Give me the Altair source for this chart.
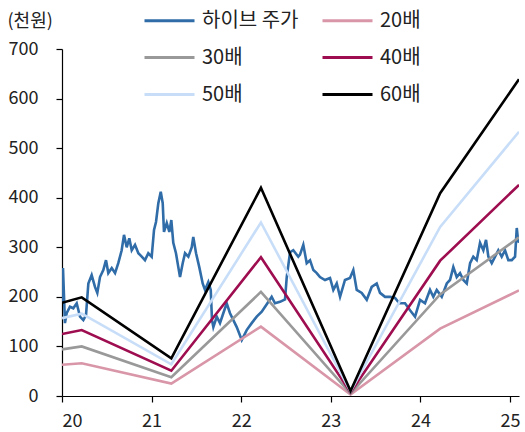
import altair as alt
import pandas as pd

# Stock price (천원), x in fractional years (20 = 2020)
stock_x = [20.0, 20.011, 20.033, 20.052, 20.089, 20.126, 20.164, 20.201, 20.238, 20.268, 20.294,
           20.331, 20.368, 20.394, 20.424, 20.461, 20.491, 20.517, 20.555, 20.592, 20.628,
           20.666, 20.692, 20.722, 20.751, 20.778, 20.815, 20.852, 20.890, 20.926, 20.963,
           21.001, 21.027, 21.049, 21.075, 21.102, 21.124, 21.138, 21.169, 21.198, 21.220,
           21.242, 21.272, 21.298, 21.317, 21.347, 21.373, 21.410, 21.448, 21.465, 21.496,
           21.532, 21.570, 21.596, 21.633, 21.660, 21.674, 21.689, 21.727, 21.763, 21.800,
           21.838, 21.875, 21.950, 22.006, 22.061, 22.117, 22.173, 22.229, 22.285, 22.340,
           22.377, 22.433, 22.489, 22.508, 22.545, 22.581, 22.637, 22.656, 22.693, 22.731,
           22.768, 22.805, 22.843, 22.879, 22.935, 22.991, 23.028, 23.066, 23.103, 23.158,
           23.214, 23.251, 23.289, 23.345, 23.401, 23.456, 23.512, 23.549, 23.605, 23.661,
           23.717, 23.764, 23.828, 23.884, 23.940, 23.996, 24.051, 24.107, 24.144, 24.182,
           24.238, 24.294, 24.330, 24.367, 24.405, 24.442, 24.479, 24.517, 24.554, 24.590,
           24.628, 24.665, 24.702, 24.732, 24.758, 24.796, 24.833, 24.869, 24.907, 24.944,
           24.981, 25.019, 25.056, 25.075, 25.089, 25.100]
stock_y = [190, 258, 147, 167, 180, 177, 187, 160, 153, 163, 227,
           244, 220, 208, 240, 254, 274, 248, 258, 248, 268,
           294, 325, 300, 318, 294, 305, 288, 281, 274, 288,
           281, 335, 351, 389, 412, 389, 331, 349, 331, 355,
           309, 288, 260, 240, 268, 288, 281, 300, 321, 288,
           260, 227, 214, 230, 214, 153, 139, 160, 147, 167,
           187, 167, 139, 113, 133, 147, 160, 170, 185, 200,
           187, 190, 195, 240, 290, 294, 281, 285, 305, 268,
           274, 254, 248, 240, 234, 238, 214, 227, 200, 234,
           238, 254, 214, 208, 194, 220, 227, 208, 200, 200,
           198, 187, 187, 173, 160, 194, 187, 214, 200, 214,
           200, 227, 234, 260, 240, 248, 234, 227, 268, 281,
           274, 309, 294, 315, 281, 268, 281, 294, 281, 294,
           274, 274, 281, 339, 315, 309]

# PER band points
band_x = [20.0, 20.22, 21.22, 22.22, 23.22, 24.22, 25.1]
per20 = [63, 66, 25, 140, 3, 136, 213]
per30 = [94, 100, 38, 210, 5, 205, 320]
per40 = [125, 133, 51, 280, 7, 273, 426]
per50 = [157, 166, 64, 350, 9, 341, 533]
per60 = [188, 199, 76, 420, 10, 409, 639]

series_names = ["하이브 주가", "20배", "30배", "40배", "50배", "60배"]
series_colors = ["#2f6ca8", "#d896a8", "#999999", "#9e0d4f", "#c8def8", "#000000"]

stock_df = pd.DataFrame({"x": stock_x, "y": stock_y, "s": "하이브 주가"})
rows = []
for name, vals in zip(series_names[1:], [per20, per30, per40, per50, per60]):
    for xv, yv in zip(band_x, vals):
        rows.append({"x": xv, "y": yv, "s": name})
band_df = pd.DataFrame(rows)

FONT = "Noto Sans CJK KR"

xenc = alt.X("x:Q", scale=alt.Scale(domain=[20, 25.1], nice=False, zero=False),
             axis=alt.Axis(values=[20, 21, 22, 23, 24, 25], format="d", title=None,
                           grid=False, tickSize=6, labelPadding=10))
yenc = alt.Y("y:Q", scale=alt.Scale(domain=[0, 700], nice=False),
             axis=alt.Axis(values=[0, 100, 200, 300, 400, 500, 600, 700], title="(천원)",
                           titleAngle=0, titleAlign="left", titleBaseline="middle",
                           titleX=-55, titleY=-28, titleFontWeight="normal", titleFontSize=18,
                           grid=False, tickSize=6, labelPadding=18))
color = alt.Color("s:N", scale=alt.Scale(domain=series_names, range=series_colors),
                  legend=alt.Legend(title=None, orient="none", legendX=81, legendY=-55,
                                    columns=2, symbolType="stroke", symbolSize=2500,
                                    symbolStrokeWidth=3, labelFontSize=20, labelFont=FONT,
                                    labelColor="#222222", rowPadding=-5, columnPadding=17,
                                    labelOffset=6, direction="horizontal"))

stock = alt.Chart(stock_df).mark_line(strokeWidth=2.6, clip=True).encode(
    x=xenc, y=yenc, color=color, order="x:Q")
bands = alt.Chart(band_df).mark_line(strokeWidth=2.6, clip=True).encode(
    x=xenc, y=yenc, color=color, order="x:Q", detail="s:N")

chart = alt.layer(stock, bands).properties(
    width=457, height=347,
    autosize=alt.AutoSizeParams(type="none"),
    padding={"left": 62, "top": 49, "right": 6, "bottom": 36},
).configure_view(stroke=None).configure_axis(
    domainColor="#000000", tickColor="#000000", domainWidth=1.2, tickWidth=1.2,
    labelFont=FONT, labelFontSize=18, labelColor="#222222",
    titleFont=FONT, titleFontSize=18, titleColor="#222222",
)

chart.save("out.html", embed_options={"renderer": "svg", "actions": False})
